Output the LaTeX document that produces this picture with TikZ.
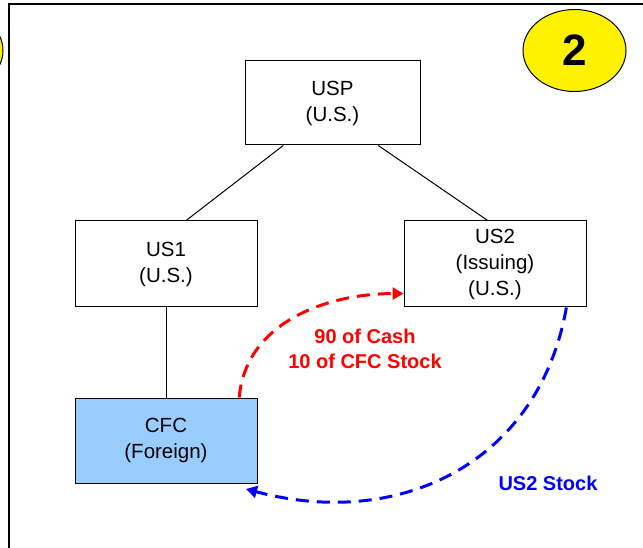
\documentclass[tikz,border=0pt]{standalone}
\usepackage{fontspec}
\setmainfont{Liberation Sans}
\usetikzlibrary{calc}
\usetikzlibrary {shapes.geometric}
\usetikzlibrary {arrows.meta}

\begin{document}
\begin{tikzpicture}[x=1pt,y=-1pt,
        entity/.style = {rectangle,draw,line width=1pt,minimum width=182pt,minimum height=86pt,
                         align=center,font=\fontsize{20.5}{26}\selectfont},
        link/.style = {line width=1pt},
        flow/.style = {line width=3pt,dash pattern=on 13pt off 8pt},
        badge/.style = {ellipse,draw,line width=1pt,fill=yellow,minimum width=103pt,minimum height=82pt,
                        font=\bfseries\fontsize{44}{44}\selectfont}]

        % \draw [help lines] (0,0) grid[step=50] (643,548);

        \useasboundingbox (0,0) rectangle (643,548);
        \clip (0,0) rectangle (643,548);

        \draw[line width=2pt] (9,548) -- (9,4) -- (643,4);

        \path   (332.5,103) node (usp) [entity,minimum width=175pt,minimum height=84pt] {USP\\(U.S.)}
                (166,264) node (us1) [entity] {US1\\(U.S.)}
                (495,264) node (us2) [entity] {US2\\(Issuing)\\(U.S.)}
                (166,440.5) node (cfc) [entity,fill={rgb,255:red,153;green,204;blue,255},minimum height=85pt] {CFC\\(Foreign)};

        \node (prev) [badge] at (-48.5,50.5) {};
        \node (step2) [badge] at (574.5,50.5) {2};

        \draw[link] ($(usp.south west)!0.22!(usp.south east)$) -- ($(us1.north west)!0.61!(us1.north east)$);
        \draw[link] ($(usp.south west)!0.76!(usp.south east)$) -- ($(us2.north west)!0.46!(us2.north east)$);
        \draw[link] (us1) -- (cfc);

        \coordinate (back) at (246,489);

        \draw[flow,red,arrows = -{Triangle[length=11pt,width=12pt]}]
                ($(cfc.north west)!0.9!(cfc.north east)$) to[out=85,in=180]
                ($(us2.north west)!0.84!(us2.south west)$);
        \draw[flow,blue,arrows = -{Triangle[length=11pt,width=12pt]}]
                ($(us2.south west)!0.89!(us2.south east)$) to[out=-100,in=-15,looseness=1.1] (back);

        \node (cash) [text=red,align=center,font=\bfseries\fontsize{20}{25}\selectfont] at (365,349)
        {90 of Cash\\10 of CFC Stock};

        \node (stock) [text=blue,font=\bfseries\fontsize{20}{25}\selectfont] at (548,483)
        {US2 Stock};

\end{tikzpicture}
\end{document}
